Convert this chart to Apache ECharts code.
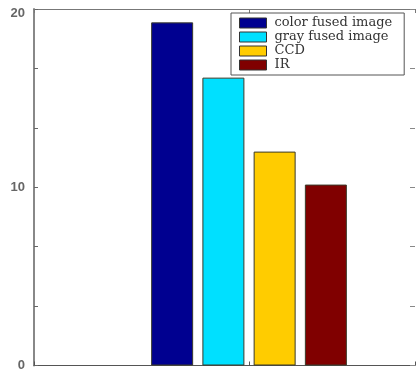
<!DOCTYPE html>
<html>
<head>
<meta charset="utf-8">
<script src="https://cdn.jsdelivr.net/npm/echarts@6/dist/echarts.min.js"></script>
<style>
html,body{margin:0;padding:0;background:#fff;}
#c{width:416px;height:372px;}
</style>
</head>
<body>
<div id="c"></div>
<script>
var seriesNames = ['color fused image', 'gray fused image', 'CCD', 'IR'];
var seriesValues = [19.25, 16.15, 12.0, 10.15];
var seriesColors = ['#000090', '#00e0ff', '#ffcc00', '#800000'];
var groupPosition = 1;
var xRange = [0.5, 1.386];
var yTickLabels = [0, 10, 20];

var chart = echarts.init(document.getElementById('c'), null, {renderer: 'canvas'});

var series = seriesNames.map(function (n, i) {
  return {
    name: n,
    type: 'bar',
    data: [[groupPosition, seriesValues[i]]],
    barWidth: 42,
    barGap: '22%',
    xAxisIndex: 0,
    yAxisIndex: 0,
    itemStyle: { color: seriesColors[i], borderColor: '#3a3a2a', borderWidth: 1 },
    emphasis: { disabled: true }
  };
});

function xAxisDef(pos, col) {
  return {
    type: 'value', min: xRange[0], max: xRange[1], interval: 0.5, position: pos,
    axisLine: { show: true, onZero: false, lineStyle: { color: col, width: 1 } },
    axisTick: { show: true, inside: true, length: 4, lineStyle: { color: col } },
    axisLabel: { show: false }, splitLine: { show: false }
  };
}

chart.setOption({
  animation: false,
  backgroundColor: '#ffffff',
  grid: { left: 34, right: 1, top: 9, bottom: 4, containLabel: false },
  legend: {
    orient: 'vertical',
    left: 231,
    top: 13,
    padding: [3, 12, 3, 8],
    itemWidth: 27,
    itemHeight: 10,
    itemGap: 0,
    icon: 'rect',
    borderColor: '#555',
    borderWidth: 1,
    backgroundColor: '#fff',
    itemStyle: { borderColor: '#333', borderWidth: 1 },
    textStyle: { fontFamily: 'DejaVu Serif', fontSize: 13, color: '#333', lineHeight: 14, padding: [0, 0, 0, 3] },
    data: seriesNames
  },
  xAxis: [ xAxisDef('bottom', '#555'), xAxisDef('top', '#777') ],
  yAxis: [
    {
      type: 'value', min: 0, max: 20, interval: 10 / 3, position: 'left',
      axisLine: { show: true, lineStyle: { color: '#888', width: 2 } },
      axisTick: { show: true, inside: true, length: 4, lineStyle: { color: '#666' } },
      splitLine: { show: false },
      axisLabel: {
        margin: 9, color: '#666', fontFamily: 'Liberation Sans', fontSize: 13, fontWeight: 'bold',
        formatter: function (v) {
          for (var k = 0; k < yTickLabels.length; k++) {
            if (Math.abs(v - yTickLabels[k]) < 1e-6) {
              return k === yTickLabels.length - 1 ? '{t|' + yTickLabels[k] + '}' : String(yTickLabels[k]);
            }
          }
          return '';
        },
        rich: { t: { padding: [8, 0, 0, 0], color: '#666', fontFamily: 'Liberation Sans', fontSize: 13, fontWeight: 'bold' } }
      }
    },
    {
      type: 'value', min: 0, max: 20, interval: 10 / 3, position: 'right',
      axisLine: { show: false },
      axisTick: { show: true, inside: true, length: 5, lineStyle: { color: '#888' } },
      splitLine: { show: false },
      axisLabel: { show: false }
    }
  ],
  series: series
});
</script>
</body>
</html>
